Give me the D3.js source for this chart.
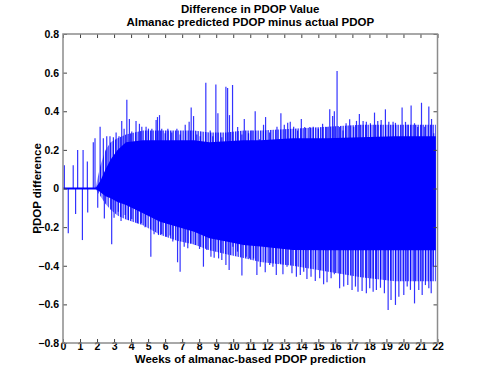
<!DOCTYPE html>
<html>
<head>
<meta charset="utf-8">
<script src="https://cdn.jsdelivr.net/npm/d3@7"></script>
<style>
  body { margin: 0; background: #fff; }
  text { font-family: "Liberation Sans", Arial, sans-serif; font-weight: bold; }
</style>
</head>
<body>
<div id="chart"></div>
<script>
const WIDTH = 488, HEIGHT = 386;
const LEFT = 63, RIGHT = 437.5, TOP = 34, BOTTOM = 343;

// tick labels
const xTicks = [0,1,2,3,4,5,6,7,8,9,10,11,12,13,14,15,16,17,18,19,20,21,22];
const yTicks = [-0.8,-0.6,-0.4,-0.2,0,0.2,0.4,0.6,0.8];

// flat part before the almanac error grows (weeks, value)
const flatWeeks = [0, 2.1];
const flatValues = [0, 0];

// solid body of the signal
const coreWeeks = [0, 1.9, 2.2, 2.5, 2.8, 3.2, 3.7, 4.7, 5.7, 6.7, 7.7, 8.6, 9.6, 10.6, 11.6, 13.5, 15.5, 17.5, 19.5, 21.9];
const coreTop   = [0, 0, 0.04, 0.1, 0.15, 0.2, 0.24, 0.25, 0.25, 0.25, 0.25, 0.24, 0.245, 0.25, 0.25, 0.26, 0.26, 0.265, 0.27, 0.27];
const coreBot   = [0, 0, -0.02, -0.04, -0.05, -0.07, -0.086, -0.128, -0.172, -0.198, -0.224, -0.258, -0.275, -0.293, -0.30, -0.318, -0.32, -0.32, -0.32, -0.32];

// denser thin lines just outside the body
const fringeTop = [0, 0, 0.12, 0.2, 0.24, 0.26, 0.28, 0.3, 0.3, 0.3, 0.3, 0.29, 0.29, 0.3, 0.3, 0.31, 0.32, 0.33, 0.33, 0.33];
const fringeBot = [0, 0, -0.04, -0.08, -0.11, -0.14, -0.16, -0.19, -0.24, -0.27, -0.29, -0.32, -0.34, -0.36, -0.38, -0.40, -0.43, -0.46, -0.48, -0.48];

// individual positive peaks: week, value
const upWeeks = [0.08, 0.6, 0.86, 1.18, 1.43, 1.78, 1.88, 2.18, 2.37, 2.57, 2.76, 2.96, 3.12, 3.29, 3.45, 3.59, 3.75, 3.9, 4.04, 4.29, 4.49, 4.63, 4.88, 5.02, 5.22, 5.47, 5.55, 5.67, 5.8, 6.0, 6.16, 6.39, 6.69, 6.88, 7.18, 7.41, 7.53, 7.67, 7.86, 8.06, 8.39, 8.65, 8.8, 8.98, 9.1, 9.33, 9.57, 9.67, 9.78, 9.96, 10.26, 10.51, 10.65, 10.9, 11.1, 11.29, 11.55, 11.78, 11.9, 12.14, 12.37, 12.57, 12.8, 13.0, 13.2, 13.35, 13.55, 13.78, 14.0, 14.2, 14.5, 14.7, 15.0, 15.25, 15.5, 15.67, 15.84, 15.94, 16.1, 16.25, 16.45, 16.63, 16.84, 17.08, 17.24, 17.41, 17.63, 17.82, 18.06, 18.3, 18.49, 18.69, 18.94, 19.14, 19.39, 19.53, 19.92, 20.12, 20.27, 20.45, 20.65, 20.84, 21.06, 21.25, 21.49, 21.65, 21.78];
const upValues = [0.12, 0.12, 0.2, 0.2, 0.14, 0.24, 0.26, 0.32, 0.26, 0.27, 0.27, 0.265, 0.29, 0.27, 0.35, 0.31, 0.46, 0.36, 0.295, 0.35, 0.335, 0.32, 0.32, 0.31, 0.31, 0.355, 0.37, 0.38, 0.31, 0.286, 0.31, 0.29, 0.31, 0.28, 0.33, 0.345, 0.42, 0.375, 0.28, 0.27, 0.548, 0.3, 0.27, 0.538, 0.39, 0.265, 0.527, 0.52, 0.38, 0.536, 0.318, 0.28, 0.36, 0.286, 0.3, 0.4, 0.255, 0.33, 0.37, 0.29, 0.25, 0.32, 0.39, 0.33, 0.34, 0.345, 0.32, 0.3, 0.36, 0.318, 0.318, 0.32, 0.31, 0.335, 0.318, 0.41, 0.375, 0.4, 0.608, 0.318, 0.3, 0.338, 0.358, 0.32, 0.35, 0.386, 0.35, 0.345, 0.338, 0.393, 0.35, 0.355, 0.41, 0.345, 0.345, 0.34, 0.42, 0.345, 0.33, 0.43, 0.338, 0.318, 0.444, 0.32, 0.424, 0.36, 0.286];

// individual negative peaks: week, value
const downWeeks = [0.31, 0.74, 1.14, 1.45, 2.04, 2.43, 2.86, 3.0, 3.25, 3.41, 3.65, 3.84, 4.04, 4.37, 4.6, 4.82, 5.16, 5.35, 5.61, 5.8, 6.06, 6.29, 6.45, 6.73, 6.88, 7.12, 7.33, 7.51, 7.76, 8.02, 8.25, 8.45, 8.69, 8.88, 9.14, 9.33, 9.57, 9.76, 9.98, 10.25, 10.51, 10.76, 10.96, 11.2, 11.39, 11.59, 11.88, 12.14, 12.33, 12.53, 12.76, 12.92, 13.16, 13.45, 13.71, 13.94, 14.14, 14.33, 14.57, 14.82, 15.08, 15.31, 15.51, 15.75, 15.94, 16.25, 16.49, 16.73, 16.98, 17.18, 17.33, 17.57, 17.82, 18.02, 18.22, 18.41, 18.65, 18.88, 19.1, 19.27, 19.53, 19.73, 20.02, 20.22, 20.41, 20.65, 20.9, 21.1, 21.29, 21.49, 21.63, 21.75];
const downValues = [-0.232, -0.132, -0.267, -0.124, -0.1, -0.155, -0.289, -0.151, -0.12, -0.168, -0.137, -0.163, -0.158, -0.18, -0.18, -0.201, -0.353, -0.237, -0.241, -0.236, -0.25, -0.244, -0.275, -0.382, -0.431, -0.301, -0.31, -0.284, -0.293, -0.313, -0.405, -0.318, -0.353, -0.358, -0.362, -0.37, -0.396, -0.422, -0.301, -0.327, -0.451, -0.353, -0.362, -0.362, -0.448, -0.405, -0.434, -0.396, -0.405, -0.448, -0.388, -0.444, -0.405, -0.439, -0.457, -0.448, -0.431, -0.469, -0.457, -0.479, -0.465, -0.496, -0.486, -0.465, -0.444, -0.517, -0.508, -0.5, -0.525, -0.508, -0.534, -0.531, -0.543, -0.517, -0.534, -0.525, -0.514, -0.543, -0.629, -0.577, -0.603, -0.56, -0.551, -0.508, -0.525, -0.595, -0.525, -0.551, -0.5, -0.517, -0.543, -0.405];

const BLUE = "#0000ff";

const svg = d3.select("#chart")
    .append("svg")
    .attr("width", WIDTH)
    .attr("height", HEIGHT)
svg.append("rect").attr("width", WIDTH).attr("height", HEIGHT).attr("fill", "#fff")

// vertical hatch so the fringe reads as many thin lines
const pat = svg.append("defs").append("pattern")
    .attr("id", "stripes")
    .attr("patternUnits", "userSpaceOnUse")
    .attr("width", 2.5).attr("height", 10)
pat.append("rect").attr("width", 1.4).attr("height", 10).attr("fill", BLUE).attr("fill-opacity", 0.85)

const x = d3.scaleLinear().domain([0, 22]).range([LEFT, RIGHT]);
const y = d3.scaleLinear().domain([-0.8, 0.8]).range([BOTTOM, TOP]);

const zip = (a, b) => a.map((v, i) => [v, b[i]])

const fringe = coreWeeks.map((w, i) => ({ w, hi: fringeTop[i], lo: fringeBot[i] }))
svg.append("path")
    .datum(fringe)
    .attr("fill", "url(#stripes)")
    .attr("d", d3.area().x(d => x(d.w)).y0(d => y(d.lo)).y1(d => y(d.hi)))

const core = coreWeeks.map((w, i) => ({ w, hi: coreTop[i], lo: coreBot[i] }))
svg.append("path")
    .datum(core)
    .attr("fill", BLUE)
    .attr("d", d3.area().x(d => x(d.w)).y0(d => y(d.lo)).y1(d => y(d.hi)))

// spikes
const spikes = zip(upWeeks, upValues).concat(zip(downWeeks, downValues))
svg.append("g")
    .selectAll("line")
    .data(spikes)
    .enter().append("line")
    .attr("x1", d => x(d[0]))
    .attr("x2", d => x(d[0]))
    .attr("y1", y(0))
    .attr("y2", d => y(d[1]))
    .attr("stroke", BLUE)
    .attr("stroke-opacity", 0.8)
    .attr("stroke-width", 1.2)

svg.append("path")
    .datum(zip(flatWeeks, flatValues))
    .attr("fill", "none")
    .attr("stroke", BLUE)
    .attr("stroke-width", 2)
    .attr("d", d3.line().x(d => x(d[0])).y(d => y(d[1])))

// axes, ticks inside like matlab
const TICK = 4;
const styleAxis = g => {
    g.select(".domain").remove();
    g.selectAll(".tick line").attr("stroke", "#444");
    g.selectAll(".tick text").attr("fill", "#000").style("font-size", "10.5px").style("font-weight", "bold");
}
svg.append("g")
    .attr("transform", `translate(0,${BOTTOM})`)
    .call(d3.axisBottom(x).tickValues(xTicks).tickFormat(d3.format("d")).tickSize(-TICK).tickPadding(0))
    .call(styleAxis)
svg.append("g")
    .attr("transform", `translate(0,${TOP})`)
    .call(d3.axisTop(x).tickValues(xTicks).tickFormat("").tickSize(-TICK))
    .call(styleAxis)
svg.append("g")
    .attr("transform", `translate(${LEFT},0)`)
    .call(d3.axisLeft(y).tickValues(yTicks).tickFormat(d => d === 0 ? "0" : d3.format(".1f")(d)).tickSize(-TICK).tickPadding(4))
    .call(styleAxis)
svg.append("g")
    .attr("transform", `translate(${RIGHT},0)`)
    .call(d3.axisRight(y).tickValues(yTicks).tickFormat("").tickSize(-TICK))
    .call(styleAxis)

svg.append("rect")
    .attr("x", LEFT).attr("y", TOP)
    .attr("width", RIGHT - LEFT).attr("height", BOTTOM - TOP)
    .attr("fill", "none")
    .attr("stroke", "#8c8c8c")
    .attr("stroke-width", 1.5)

// titles
const cx = (LEFT + RIGHT) / 2;
svg.append("text").attr("x", cx).attr("y", 13).attr("text-anchor", "middle")
    .style("font-size", "11.5px").text("Difference in PDOP Value")
svg.append("text").attr("x", cx).attr("y", 26).attr("text-anchor", "middle")
    .style("font-size", "11.5px").text("Almanac predicted PDOP minus actual PDOP")
svg.append("text").attr("x", cx).attr("y", 363).attr("text-anchor", "middle")
    .style("font-size", "11.5px").text("Weeks of almanac-based PDOP prediction")
svg.append("text")
    .attr("transform", `translate(41,${(TOP + BOTTOM) / 2}) rotate(-90)`)
    .attr("text-anchor", "middle")
    .style("font-size", "11.5px").text("PDOP difference")
</script>
</body>
</html>
